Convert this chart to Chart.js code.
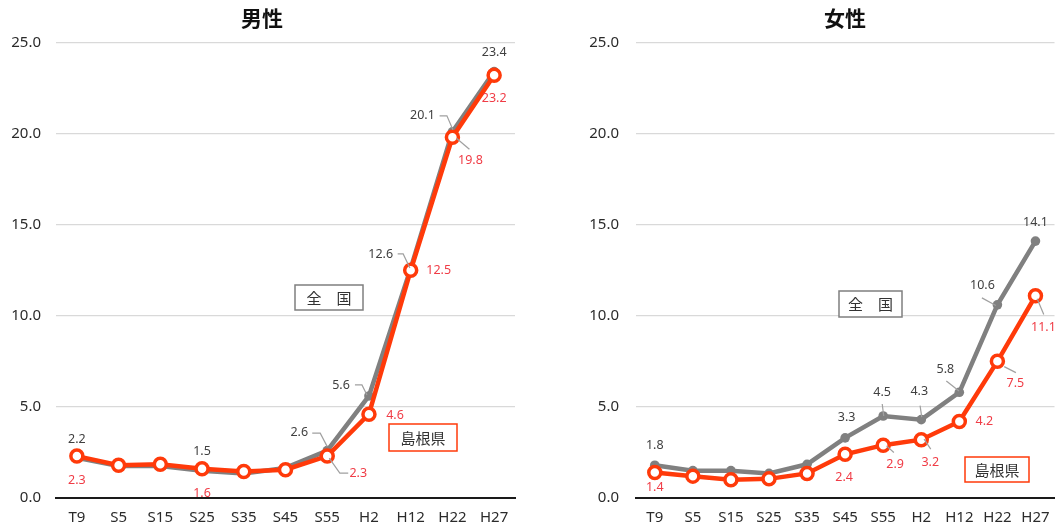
<!DOCTYPE html>
<html>
<head>
<meta charset="utf-8">
<script src="https://cdn.jsdelivr.net/npm/chart.js@4.4.1/dist/chart.umd.min.js"></script>
<style>
  html, body { margin: 0; padding: 0; background: #fff; }
  body { width: 1064px; height: 530px; position: relative; overflow: hidden; }
  .panel { position: absolute; top: 0; height: 530px; }
</style>
</head>
<body>
<div class="panel" style="left:0;width:530px"><canvas id="male" width="530" height="530"></canvas></div>
<div class="panel" style="left:530px;width:534px"><canvas id="female" width="534" height="530"></canvas></div>
<script>
// Census years (Taishō 9 … Heisei 27)
const categories = ['T9', 'S5', 'S15', 'S25', 'S35', 'S45', 'S55', 'H2', 'H12', 'H22', 'H27'];
const yTicks = [0, 5, 10, 15, 20, 25];
const seriesNames = ['全　国', '島根県'];

// Male rates (%)
const maleNational = [2.2, 1.75, 1.75, 1.5, 1.35, 1.65, 2.6, 5.6, 12.6, 20.1, 23.4];
const maleShimane  = [2.3, 1.8, 1.85, 1.6, 1.45, 1.55, 2.3, 4.6, 12.5, 19.8, 23.2];

// Female rates (%)
const femaleNational = [1.8, 1.5, 1.5, 1.35, 1.85, 3.3, 4.5, 4.3, 5.8, 10.6, 14.1];
const femaleShimane  = [1.4, 1.2, 1.0, 1.05, 1.35, 2.4, 2.9, 3.2, 4.2, 7.5, 11.1];

const LATIN = '"Noto Sans", "Liberation Sans", sans-serif';
const CJK = '"Noto Sans CJK JP", "Noto Sans", sans-serif';
const GREY = '#808080';
const RED = '#ff3a0a';

// Value-label placement: [index, [dx, dy] from the point, optional leader polyline relative to the point]
const maleLabelPlacement = {
  national: [
    [0, [0, -18]],
    [3, [0, -19]],
    [6, [-28, -18], [[-15, -17.5], [-7, -17.5], [0, -4]]],
    [7, [-28, -11], [[-14, -11], [-7, -11], [-2, -1]]],
    [8, [-30, -13.5], [[-13, -14.5], [-7.5, -14.5], [-0.8, -0.5]]],
    [9, [-30, -16], [[-12.8, -16], [-5.5, -16], [0.5, -2]]],
    [10, [0, -19]]
  ],
  shimane: [
    [0, [0, 24]],
    [3, [0, 24.5]],
    [6, [31, 17], [[21, 17], [12.6, 17], [2, 2]]],
    [7, [26, 1]],
    [8, [28, 0]],
    [9, [18, 23.5], [[4, 1], [17, 12]]],
    [10, [0, 23]]
  ]
};

const femaleLabelPlacement = {
  national: [
    [0, [0, -20]],
    [5, [1.5, -20.5]],
    [6, [-1, -24], [[-1, -12], [0.5, 0]]],
    [7, [-2, -28], [[-1.2, -14], [0.5, -2.5]]],
    [8, [-14, -22.4], [[-13, -11.4], [-0.3, -1.4]]],
    [9, [-15, -19.4], [[-15.5, -7], [-1.5, 0.6]]],
    [10, [0, -19]]
  ],
  shimane: [
    [0, [0, 15]],
    [5, [-1, 23]],
    [6, [12, 19.7], [[3.3, 0.7], [10.7, 7.3]]],
    [7, [9, 22.7], [[2.8, -0.6], [9.5, 9.4]]],
    [8, [25, 0.4]],
    [9, [18, 22.3], [[6.8, 5.3], [18.5, 11.3]]],
    [10, [8, 32], [[1.7, 3], [8.3, 18.7]]]
  ]
};

// Draws value labels with leader lines, the panel title and the boxed series names
const annotate = {
  id: 'annotate',
  afterDatasetsDraw(chart, args, opts) {
    const ctx = chart.ctx;
    ctx.save();
    const groups = [
      { ds: 0, spec: opts.placement.national, color: '#404040' },
      { ds: 1, spec: opts.placement.shimane, color: '#f03c46' }
    ];
    groups.forEach(g => {
      const meta = chart.getDatasetMeta(g.ds);
      const values = chart.data.datasets[g.ds].data;
      g.spec.forEach(([i, at, leader]) => {
        const p = meta.data[i];
        if (leader) {
          ctx.strokeStyle = '#a0a0a0';
          ctx.lineWidth = 1.2;
          ctx.beginPath();
          leader.forEach(([lx, ly], k) => {
            if (k === 0) ctx.moveTo(p.x + lx, p.y + ly);
            else ctx.lineTo(p.x + lx, p.y + ly);
          });
          ctx.stroke();
        }
        ctx.fillStyle = g.color;
        ctx.font = '12.5px ' + LATIN;
        ctx.textAlign = 'center';
        ctx.textBaseline = 'middle';
        ctx.fillText(values[i].toFixed(1), p.x + at[0], p.y + at[1]);
      });
    });
    ctx.restore();
  },
  afterDraw(chart, args, opts) {
    const ctx = chart.ctx;
    ctx.save();
    ctx.fillStyle = '#111';
    ctx.font = 'bold 21px ' + CJK;
    ctx.textAlign = 'center';
    ctx.textBaseline = 'middle';
    ctx.fillText(opts.title, opts.titleX, 18);

    opts.boxes.forEach(b => {
      ctx.fillStyle = '#fff';
      ctx.fillRect(b.x, b.y, b.w, b.h);
      ctx.strokeStyle = b.color;
      ctx.lineWidth = 1.5;
      ctx.strokeRect(b.x, b.y, b.w, b.h);
      ctx.fillStyle = '#333';
      ctx.font = '15px ' + CJK;
      ctx.fillText(b.text, b.x + b.w / 2, b.y + b.h / 2 + 0.5);
    });
    ctx.restore();
  }
};

function makeChart(id, national, shimane, cfg) {
  return new Chart(document.getElementById(id), {
    type: 'line',
    data: {
      labels: categories,
      datasets: [
        {
          label: seriesNames[0], data: national, order: 1,
          borderColor: GREY, backgroundColor: GREY, borderWidth: 4.5,
          pointRadius: 4.8, pointBackgroundColor: GREY, pointBorderColor: GREY, pointBorderWidth: 0,
          tension: 0
        },
        {
          label: seriesNames[1], data: shimane, order: 0,
          borderColor: RED, backgroundColor: '#fff', borderWidth: 4.5,
          pointRadius: 6, pointBackgroundColor: '#fff', pointBorderColor: RED, pointBorderWidth: 3.5,
          tension: 0
        }
      ]
    },
    options: {
      responsive: false,
      animation: false,
      devicePixelRatio: 1,
      layout: { padding: { left: 0, right: cfg.padRight, top: 42.5, bottom: 0 } },
      plugins: {
        legend: { display: false },
        tooltip: { enabled: false },
        annotate: {
          placement: cfg.placement,
          title: cfg.title,
          titleX: cfg.titleX,
          boxes: cfg.boxes
        }
      },
      scales: {
        x: {
          offset: true,
          grid: { display: false, drawTicks: false },
          border: { display: true, color: '#1a1a1a', width: 2 },
          ticks: { padding: 11, color: '#2b2b2b', font: { family: LATIN, size: 15 }, autoSkip: false, maxRotation: 0 },
          afterFit: s => { s.height = 32; }
        },
        y: {
          min: 0, max: 25,
          afterBuildTicks: s => { s.ticks = yTicks.map(v => ({ value: v })); },
          ticks: { padding: cfg.tickPad, color: '#2b2b2b', font: { family: LATIN, size: 15 }, callback: v => v.toFixed(1) },
          grid: {
            color: c => (c.tick && c.tick.value === 0) ? 'rgba(0,0,0,0)' : '#d9d9d9',
            lineWidth: 1.2,
            drawTicks: false
          },
          border: { display: false },
          afterFit: s => { s.width = cfg.axisWidth; }
        }
      }
    },
    plugins: [annotate]
  });
}

makeChart('male', maleNational, maleShimane, {
  padRight: 15, axisWidth: 56, tickPad: 15,
  placement: maleLabelPlacement,
  title: '男性', titleX: 262,
  boxes: [
    { x: 295, y: 285, w: 68, h: 25, color: '#7f7f7f', text: seriesNames[0] },
    { x: 389, y: 424, w: 68, h: 27, color: RED, text: seriesNames[1] }
  ]
});

makeChart('female', femaleNational, femaleShimane, {
  padRight: 4.75, axisWidth: 105.75, tickPad: 16.75,
  placement: femaleLabelPlacement,
  title: '女性', titleX: 315,
  boxes: [
    { x: 309, y: 291, w: 63, h: 26, color: '#7f7f7f', text: seriesNames[0] },
    { x: 435, y: 457, w: 64, h: 25, color: RED, text: seriesNames[1] }
  ]
});
</script>
</body>
</html>
